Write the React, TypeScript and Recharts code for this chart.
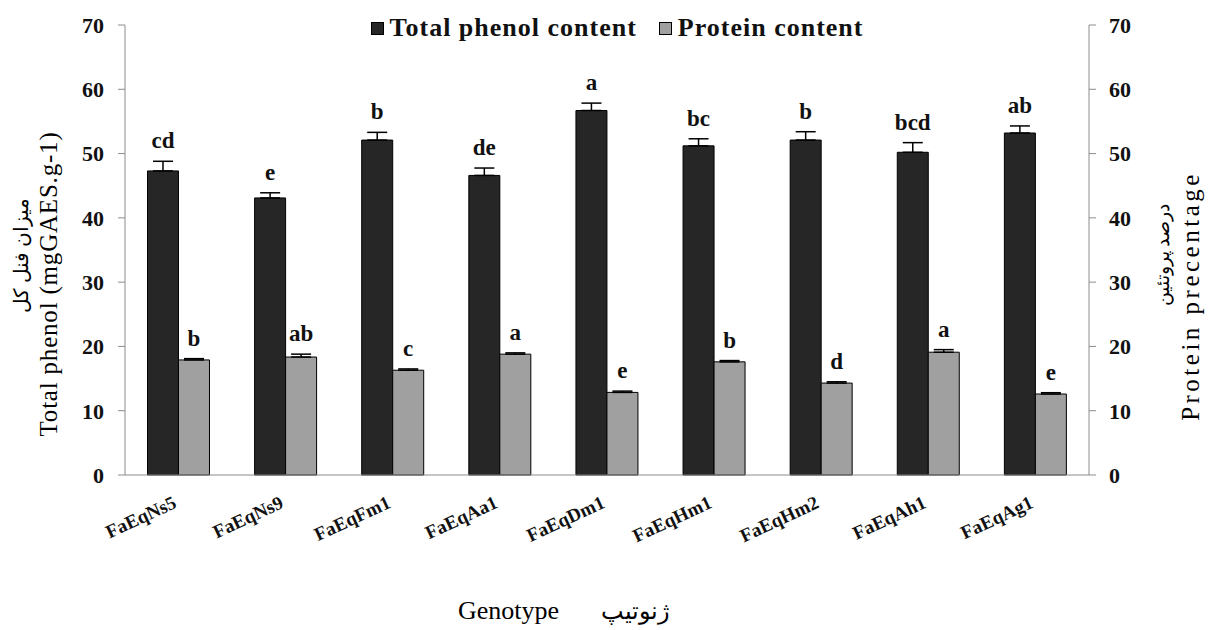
import { Bar, BarChart, ErrorBar, Label, LabelList, XAxis, YAxis } from "recharts"

const genotypes = ["FaEqNs5", "FaEqNs9", "FaEqFm1", "FaEqAa1", "FaEqDm1", "FaEqHm1", "FaEqHm2", "FaEqAh1", "FaEqAg1"]
const phenol = [47.3, 43.1, 52.1, 46.6, 56.7, 51.2, 52.1, 50.2, 53.2]
const phenolErr = [1.5, 0.8, 1.2, 1.15, 1.15, 1.1, 1.3, 1.5, 1.1]
const phenolLetters = ["cd", "e", "b", "de", "a", "bc", "b", "bcd", "ab"]
const protein = [17.9, 18.35, 16.3, 18.8, 12.85, 17.6, 14.3, 19.1, 12.6]
const proteinErr = [0.2, 0.45, 0.2, 0.2, 0.2, 0.2, 0.2, 0.4, 0.2]
const proteinLetters = ["b", "ab", "c", "a", "e", "b", "d", "a", "e"]
const yTicks = [0, 10, 20, 30, 40, 50, 60, 70]

const data = genotypes.map((name, i) => ({
  name,
  phenol: phenol[i],
  phenolErr: [0, phenolErr[i]],
  protein: protein[i],
  proteinErr: [0, proteinErr[i]],
}))

const serif = "'Liberation Serif', 'Times New Roman', Times, serif"
const axisColor = "#8c8c8c"

// significance letters sit above the error bar cap
const letterLabel = (letters: string[], values: number[], errs: number[]) => (props: any) => {
  const { x, y, width, height, index } = props
  const perUnit = height / values[index]
  const top = y - errs[index] * perUnit
  return (
    <text x={x + width / 2} y={top - 13} textAnchor="middle" fontFamily={serif} fontWeight="bold" fontSize={23} fill="#111">
      {letters[index]}
    </text>
  )
}

const GenotypeTick = (props: any) => {
  const { x, y, payload } = props
  const ax = x - 1
  const ay = y + 24
  return (
    <text
      x={ax}
      y={ay}
      transform={`rotate(-25, ${ax}, ${ay})`}
      textAnchor="end"
      fontFamily={serif}
      fontWeight="bold"
      fontSize={19}
      fill="#111"
    >
      {payload.value}
    </text>
  )
}

const LeftTitle = () => (
  <g fontFamily={serif} fill="#000">
    <text transform="translate(57, 284) rotate(-90)" textAnchor="middle" fontSize={25} letterSpacing={0.8}>
      Total phenol (mgGAES.g-1)
    </text>
    <text transform="translate(28, 255) rotate(-90)" textAnchor="middle" fontSize={20}>
      میزان فنل کل
    </text>
  </g>
)

const RightTitle = () => (
  <g fontFamily={serif} fill="#000">
    <text transform="translate(1199, 296) rotate(-90)" textAnchor="middle" fontSize={25} letterSpacing={3.5}>
      Protein precentage
    </text>
    <text transform="translate(1169, 255) rotate(-90)" textAnchor="middle" fontSize={19}>
      درصد پروتئین
    </text>
  </g>
)

export default function App() {
  return (
    <div style={{ position: "absolute", left: 0, top: 0, width: 1212, height: 630, background: "#fff", overflow: "hidden" }}>
      <BarChart
        width={1212}
        height={630}
        data={data}
        margin={{ top: 25, right: 0, bottom: 95, left: 0 }}
        barCategoryGap="21%"
        barGap={0}
      >
        <XAxis dataKey="name" height={60} interval={0} tickLine={false} stroke={axisColor} tick={<GenotypeTick />} />
        <YAxis
          yAxisId="left"
          width={125}
          domain={[0, 70]}
          ticks={yTicks}
          tickSize={7}
          tickMargin={14}
          stroke={axisColor}
          tick={{ fontFamily: serif, fontWeight: "bold", fontSize: 22, fill: "#111" }}
        >
          <Label content={<LeftTitle />} />
        </YAxis>
        <YAxis
          yAxisId="right"
          orientation="right"
          width={123}
          domain={[0, 70]}
          ticks={yTicks}
          tickSize={7}
          tickMargin={13}
          stroke={axisColor}
          tick={{ fontFamily: serif, fontWeight: "bold", fontSize: 22, fill: "#111" }}
        >
          <Label content={<RightTitle />} />
        </YAxis>
        <Bar yAxisId="left" dataKey="phenol" fill="#262626" stroke="#000" strokeWidth={1} isAnimationActive={false}>
          <ErrorBar dataKey="phenolErr" direction="y" width={10} stroke="#000" strokeWidth={1.5} />
          <LabelList dataKey="phenol" content={letterLabel(phenolLetters, phenol, phenolErr)} />
        </Bar>
        <Bar yAxisId="right" dataKey="protein" fill="#a0a0a0" stroke="#000" strokeWidth={1} isAnimationActive={false}>
          <ErrorBar dataKey="proteinErr" direction="y" width={10} stroke="#000" strokeWidth={1.5} />
          <LabelList dataKey="protein" content={letterLabel(proteinLetters, protein, proteinErr)} />
        </Bar>
      </BarChart>

      <div
        style={{
          position: "absolute",
          top: 13,
          left: 11,
          width: 1212,
          display: "flex",
          justifyContent: "center",
          gap: 22,
          fontFamily: serif,
          fontWeight: "bold",
          fontSize: 26,
          letterSpacing: 1,
          color: "#111",
          lineHeight: "30px",
        }}
      >
        <span style={{ display: "flex", alignItems: "center" }}>
          <span style={{ width: 11, height: 11, background: "#262626", border: "1px solid #000", marginRight: 6 }} />
          Total phenol content
        </span>
        <span style={{ display: "flex", alignItems: "center" }}>
          <span style={{ width: 11, height: 11, background: "#a0a0a0", border: "1px solid #000", marginRight: 6 }} />
          Protein content
        </span>
      </div>

      <div
        style={{
          position: "absolute",
          top: 597,
          left: 458,
          fontFamily: serif,
          fontSize: 26,
          lineHeight: "28px",
          color: "#000",
          whiteSpace: "nowrap",
        }}
      >
        <span>Genotype</span>
        <span style={{ marginLeft: 42, fontSize: 24 }}>ژنوتیپ</span>
      </div>
    </div>
  )
}
